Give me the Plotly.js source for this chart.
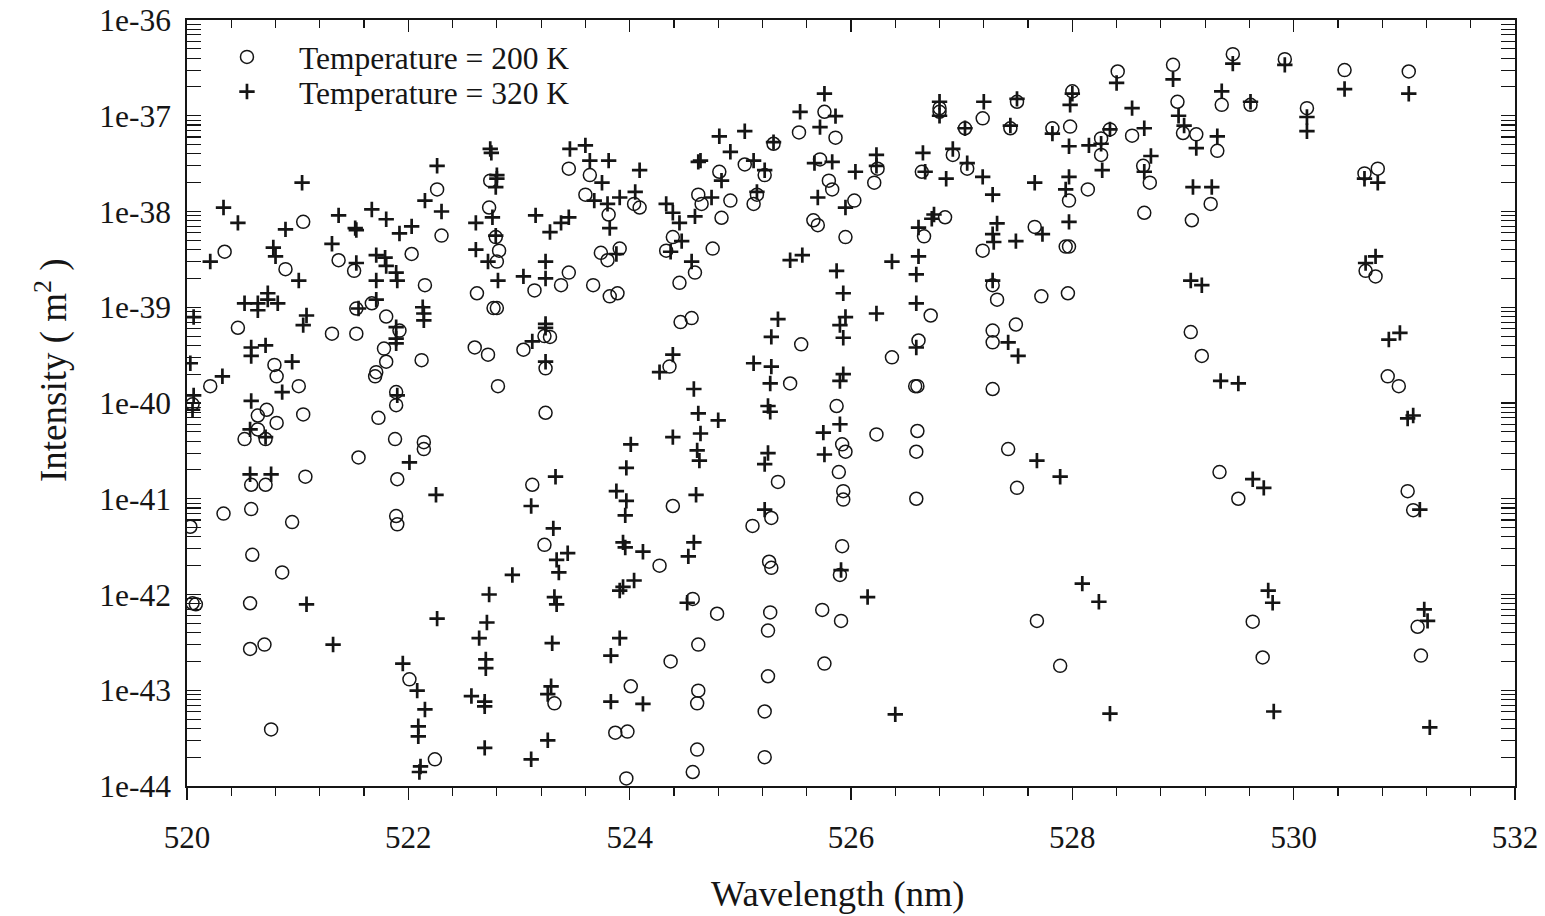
<!DOCTYPE html>
<html>
<head>
<meta charset="utf-8">
<script src="https://cdn.plot.ly/plotly-3.0.1.min.js"></script>
<style>
  html, body { margin: 0; padding: 0; background: #ffffff; }
  #chart { width: 1545px; height: 916px; }
</style>
</head>
<body>
<div id="chart"></div>
<script>
// ---------- data ----------
const seriesNames = ["Temperature = 200 K", "Temperature = 320 K"];

const wl200 = [
522.74,522.26,521.05,522.30,522.73,522.79,522.82,522.80,520.34,521.37,520.89,521.51,522.03,522.15,522.62,
520.46,521.53,521.67,521.80,521.92,521.31,521.53,522.77,522.80,520.79,520.81,520.21,521.01,521.78,521.80,
521.71,521.70,522.12,521.89,522.60,522.72,522.81,520.05,520.72,520.64,520.81,521.05,520.64,520.52,520.71,
521.73,521.89,521.88,522.14,522.14,521.55,520.58,520.71,521.07,521.90,520.33,520.58,520.03,520.95,521.89,
521.90,520.59,520.86,520.05,520.08,520.57,520.57,520.70,522.01,522.24,520.76,
525.76,525.53,525.86,525.30,524.81,525.04,525.22,525.72,525.80,525.83,525.95,525.66,525.70,523.45,523.64,
523.60,523.81,524.04,524.09,523.74,523.80,523.91,523.14,523.38,523.45,523.67,523.82,523.89,524.62,524.65,
524.91,524.83,525.12,525.15,524.39,524.33,524.75,524.59,524.45,524.46,524.56,524.36,525.55,525.45,525.87,
523.23,523.28,523.04,523.24,523.24,523.12,523.23,523.32,524.01,523.87,523.98,523.97,524.39,524.27,524.57,
524.79,524.62,524.37,524.62,524.61,524.61,524.57,525.34,525.28,525.11,525.26,525.28,525.27,525.25,525.25,
525.22,525.22,525.92,525.95,525.89,525.93,525.93,525.92,525.90,525.74,525.91,525.76,
528.91,528.95,528.41,528.00,528.54,528.34,528.26,528.26,527.98,527.82,527.19,527.50,527.44,526.80,526.80,
527.03,526.92,527.05,526.64,526.24,526.21,526.03,527.97,528.14,528.64,528.70,528.65,527.97,527.94,527.66,
527.19,526.85,526.66,526.72,527.28,527.32,527.72,527.96,527.28,527.28,527.49,526.61,526.37,526.60,526.58,
527.28,526.23,526.60,526.59,526.59,527.42,527.50,527.68,527.89,
529.00,529.12,529.31,529.35,529.45,529.61,529.92,530.12,530.46,531.04,529.25,529.08,530.64,530.76,530.65,
530.74,529.07,529.17,530.85,530.95,529.33,529.50,531.03,531.08,529.63,529.72,531.12,531.15
];
const int200 = [
2.1e-38,1.7e-38,7.8e-39,5.6e-39,1.1e-38,5.4e-39,3.9e-39,3.0e-39,3.8e-39,3.1e-39,2.5e-39,2.4e-39,3.6e-39,1.7e-39,1.4e-39,
6.1e-40,9.7e-40,1.1e-39,8.0e-40,5.7e-40,5.3e-40,5.3e-40,9.8e-40,9.8e-40,2.5e-40,1.9e-40,1.5e-40,1.5e-40,3.7e-40,2.7e-40,
2.1e-40,1.9e-40,2.8e-40,1.3e-40,3.8e-40,3.2e-40,1.5e-40,9.7e-41,8.5e-41,7.4e-41,6.2e-41,7.6e-41,5.3e-41,4.2e-41,4.2e-41,
7.0e-41,9.5e-41,4.2e-41,3.9e-41,3.3e-41,2.7e-41,1.4e-41,1.4e-41,1.7e-41,1.6e-41,7.0e-42,7.8e-42,5.1e-42,5.7e-42,6.6e-42,
5.4e-42,2.6e-42,1.7e-42,8.1e-43,7.9e-43,8.1e-43,2.7e-43,3.0e-43,1.3e-43,1.9e-44,3.9e-44,
1.1e-37,6.7e-38,5.9e-38,5.1e-38,2.6e-38,3.1e-38,2.4e-38,3.5e-38,2.1e-38,1.7e-38,5.4e-39,8.1e-39,7.2e-39,2.8e-38,2.4e-38,
1.5e-38,9.3e-39,1.2e-38,1.1e-38,3.7e-39,3.1e-39,4.1e-39,1.5e-39,1.7e-39,2.3e-39,1.7e-39,1.3e-39,1.4e-39,1.5e-38,1.2e-38,
1.3e-38,8.6e-39,1.2e-38,1.5e-38,5.4e-39,3.9e-39,4.1e-39,2.3e-39,1.8e-39,7.0e-40,7.7e-40,2.4e-40,4.1e-40,1.6e-40,9.3e-41,
5.0e-40,4.9e-40,3.6e-40,2.3e-40,7.9e-41,1.4e-41,3.3e-42,7.3e-44,1.1e-43,3.6e-44,3.7e-44,1.2e-44,8.4e-42,2.0e-42,9.0e-43,
6.3e-43,3.0e-43,2.0e-43,9.9e-44,7.3e-44,2.4e-44,1.4e-44,1.5e-41,6.3e-42,5.2e-42,2.2e-42,1.9e-42,6.5e-43,4.2e-43,1.4e-43,
6.0e-44,2.0e-44,3.7e-41,3.1e-41,1.9e-41,1.2e-41,9.8e-42,3.2e-42,1.6e-42,6.9e-43,5.3e-43,1.9e-43,
3.4e-37,1.4e-37,2.9e-37,1.8e-37,6.2e-38,7.2e-38,5.8e-38,3.9e-38,7.7e-38,7.4e-38,9.4e-38,1.4e-37,7.4e-38,1.2e-37,1.1e-37,
7.4e-38,3.9e-38,2.8e-38,2.6e-38,2.8e-38,2.0e-38,1.3e-38,1.3e-38,1.7e-38,3.0e-38,2.0e-38,9.7e-39,4.3e-39,4.3e-39,6.9e-39,
3.9e-39,8.7e-39,5.5e-39,8.2e-40,1.7e-39,1.2e-39,1.3e-39,1.4e-39,5.7e-40,4.3e-40,6.6e-40,4.5e-40,3.0e-40,1.5e-40,1.5e-40,
1.4e-40,4.7e-41,5.1e-41,3.1e-41,1.0e-41,3.3e-41,1.3e-41,5.3e-43,1.8e-43,
6.6e-38,6.4e-38,4.3e-38,1.3e-37,4.4e-37,1.3e-37,3.9e-37,1.2e-37,3.0e-37,2.9e-37,1.2e-38,8.1e-39,2.5e-38,2.8e-38,2.4e-39,
2.1e-39,5.5e-40,3.1e-40,1.9e-40,1.5e-40,1.9e-41,1.0e-41,1.2e-41,7.6e-42,5.2e-43,2.2e-43,4.6e-43,2.3e-43
];

const wl320 = [
522.74,522.75,522.26,521.04,522.80,522.80,522.79,522.15,522.30,520.33,520.46,520.89,521.37,521.67,521.80,
521.52,521.53,521.92,522.03,522.61,522.76,522.79,522.61,522.72,522.81,520.21,521.31,520.78,520.80,521.01,
521.53,521.71,521.79,521.80,521.89,521.90,521.71,520.52,520.64,520.64,520.73,520.73,520.82,520.06,521.08,
521.05,521.55,521.71,521.89,522.13,522.14,522.14,520.58,520.58,520.71,520.95,520.03,520.32,520.86,521.89,
521.89,521.90,520.06,520.05,520.58,520.57,520.71,522.01,522.25,520.57,520.76,521.08,521.32,522.94,522.73,
522.26,522.71,522.64,522.70,522.70,521.95,522.08,522.15,522.09,522.09,522.57,522.69,522.69,522.69,522.11,
522.10,
525.76,525.54,525.86,525.72,524.81,525.04,524.91,525.30,524.62,524.64,524.83,525.12,525.22,525.67,525.83,
525.70,525.95,523.46,523.60,523.64,523.81,523.75,524.09,523.68,523.80,523.91,524.05,523.82,523.15,523.28,
523.38,523.45,523.88,523.24,523.04,523.24,524.33,524.39,524.45,524.59,524.74,525.15,524.47,524.37,524.56,
524.39,524.27,524.58,524.62,525.45,525.56,525.87,525.93,525.95,525.90,525.93,525.34,525.28,525.12,525.28,
525.27,525.25,525.27,525.93,525.90,523.24,523.24,523.12,523.24,523.33,523.11,523.31,523.44,523.34,523.36,
523.32,523.34,523.30,523.29,523.26,523.26,523.11,524.01,523.97,523.88,523.97,523.96,523.94,523.96,524.12,
524.04,523.94,523.91,523.91,523.83,523.83,524.12,524.39,524.64,524.80,524.61,524.63,524.60,524.58,524.53,
524.52,525.25,525.22,525.22,525.90,525.75,525.76,525.91,
528.91,528.96,528.40,528.00,527.98,528.54,528.65,528.34,528.26,528.15,528.27,527.97,527.82,527.20,527.50,
527.44,526.80,526.80,527.03,526.92,527.05,526.65,526.67,526.23,526.23,526.04,526.86,527.19,527.28,527.66,
527.97,527.94,528.65,528.71,527.97,527.73,527.32,527.28,527.29,527.49,526.75,526.73,526.61,526.61,526.59,
526.37,526.59,526.23,527.28,527.42,527.51,526.59,527.68,527.89,526.15,528.09,528.24,526.40,528.34,
529.01,529.12,529.31,529.35,529.45,529.61,529.92,530.12,530.12,530.46,531.04,529.09,529.26,530.64,530.76,
529.07,529.17,530.65,530.74,529.34,529.50,530.86,530.96,531.03,531.08,529.63,529.73,531.14,529.77,529.81,
529.82,531.18,531.21,531.23
];
const int320 = [
4.5e-38,4.1e-38,3.0e-38,2.0e-38,2.4e-38,2.2e-38,1.8e-38,1.3e-38,1.0e-38,1.1e-38,7.6e-39,6.5e-39,9.1e-39,1.05e-38,8.3e-39,
6.7e-39,6.4e-39,5.9e-39,7.0e-39,7.6e-39,8.7e-39,5.6e-39,4.0e-39,3.0e-39,1.9e-39,3.0e-39,4.6e-39,4.2e-39,3.4e-39,1.9e-39,
2.9e-39,3.5e-39,3.3e-39,2.7e-39,2.3e-39,1.9e-39,1.9e-39,1.1e-39,1.1e-39,9.3e-40,1.4e-39,1.2e-39,1.1e-39,7.9e-40,8.2e-40,
6.5e-40,9.7e-40,1.2e-39,6.2e-40,1.0e-39,8.6e-40,7.3e-40,3.8e-40,3.1e-40,4.0e-40,2.7e-40,2.6e-40,1.9e-40,1.3e-40,4.7e-40,
4.2e-40,1.2e-40,1.2e-40,8.5e-41,1.05e-40,5.3e-41,4.4e-41,2.4e-41,1.1e-41,1.8e-41,1.8e-41,7.9e-43,3.0e-43,1.6e-42,1.0e-42,
5.6e-43,5.1e-43,3.5e-43,2.1e-43,1.7e-43,1.9e-43,9.9e-44,6.3e-44,4.2e-44,3.3e-44,8.7e-44,7.6e-44,6.8e-44,2.5e-44,1.6e-44,
1.4e-44,
1.7e-37,1.1e-37,9.9e-38,7.6e-38,6.1e-38,6.9e-38,4.2e-38,5.3e-38,3.3e-38,3.4e-38,2.1e-38,3.4e-38,2.7e-38,3.2e-38,3.3e-38,
1.4e-38,1.1e-38,4.5e-38,4.9e-38,3.4e-38,3.4e-38,2.0e-38,2.7e-38,1.3e-38,1.2e-38,1.4e-38,1.6e-38,6.7e-39,9.1e-39,6.1e-39,
7.6e-39,8.7e-39,3.6e-39,3.0e-39,2.1e-39,2.0e-39,1.2e-38,9.7e-39,7.6e-39,8.9e-39,1.4e-38,1.6e-38,4.9e-39,3.8e-39,3.0e-39,
3.2e-40,2.1e-40,1.4e-40,7.8e-41,3.1e-39,3.5e-39,2.4e-39,1.4e-39,7.9e-40,6.5e-40,4.8e-40,7.5e-40,4.9e-40,2.6e-40,2.4e-40,
1.6e-40,9.3e-41,8.1e-41,2.0e-40,1.7e-40,6.7e-40,6.1e-40,4.4e-40,2.7e-40,1.7e-41,8.4e-42,4.9e-42,2.7e-42,2.3e-42,1.7e-42,
9.4e-43,7.9e-43,3.1e-43,1.1e-43,9.1e-44,3.0e-44,1.9e-44,3.7e-41,2.1e-41,1.2e-41,9.5e-42,6.7e-42,3.5e-42,3.1e-42,2.8e-42,
1.4e-42,1.2e-42,1.1e-42,3.5e-43,2.3e-43,7.6e-44,7.2e-44,4.4e-41,4.8e-41,6.6e-41,3.2e-41,2.5e-41,1.1e-41,3.5e-42,2.5e-42,
8.2e-43,3.0e-41,2.3e-41,7.7e-42,6.0e-41,4.9e-41,2.9e-41,1.8e-42,
2.4e-37,1.0e-37,2.2e-37,1.7e-37,1.3e-37,1.2e-37,7.4e-38,7.2e-38,5.1e-38,4.9e-38,2.7e-38,4.8e-38,6.5e-38,1.4e-37,1.5e-37,
7.9e-38,1.4e-37,1.0e-37,7.4e-38,4.5e-38,3.2e-38,4.1e-38,2.6e-38,3.9e-38,3.0e-38,2.6e-38,2.2e-38,2.3e-38,1.5e-38,2.0e-38,
2.3e-38,1.7e-38,2.6e-38,3.8e-38,7.8e-39,5.8e-39,7.5e-39,5.8e-39,4.8e-39,4.9e-39,9.3e-39,8.4e-39,6.8e-39,3.4e-39,2.2e-39,
3.0e-39,1.1e-39,8.6e-40,1.9e-39,4.3e-40,3.1e-40,3.8e-40,2.5e-41,1.7e-41,9.4e-43,1.3e-42,8.4e-43,5.6e-44,5.7e-44,
7.9e-38,4.6e-38,6.1e-38,1.8e-37,3.5e-37,1.4e-37,3.4e-37,9.7e-38,6.9e-38,1.9e-37,1.7e-37,1.8e-38,1.8e-38,2.2e-38,2.0e-38,
1.9e-39,1.7e-39,2.9e-39,3.4e-39,1.7e-40,1.6e-40,4.6e-40,5.4e-40,6.9e-41,7.4e-41,1.6e-41,1.3e-41,7.7e-42,1.1e-42,8.2e-43,
6.0e-44,7.0e-43,5.3e-43,4.1e-44
];

// axis tick labels and titles
const xTickVals = [520, 522, 524, 526, 528, 530, 532];
const xTickText = ["520", "522", "524", "526", "528", "530", "532"];
const yTickVals = [1e-44, 1e-43, 1e-42, 1e-41, 1e-40, 1e-39, 1e-38, 1e-37, 1e-36];
const yTickText = ["1e-44", "1e-43", "1e-42", "1e-41", "1e-40", "1e-39", "1e-38", "1e-37", "1e-36"];
const xTitle = "Wavelength (nm)";
const yTitle = "Intensity ( m<sup>2</sup> )";

// ---------- drawing ----------
const INK = "#151515";
const FONT = "Liberation Serif, Times New Roman, serif";

// minor tick positions on the log axis (2..9 per decade)
const yMinorVals = [];
for (let d = -44; d < -36; d++) {
  for (let m = 2; m <= 9; m++) yMinorVals.push(m * Math.pow(10, d));
}

const traces = [
  {
    type: "scatter", mode: "markers", name: seriesNames[0], legend: "legend",
    x: wl200, y: int200,
    marker: { symbol: "circle-open", size: 13, color: INK, line: { width: 1.5, color: INK } }
  },
  {
    type: "scatter", mode: "markers", name: seriesNames[1], legend: "legend2",
    x: wl320, y: int320,
    marker: { symbol: "cross-thin-open", size: 11, color: INK, line: { width: 2.7, color: INK } }
  },
  { type: "scatter", mode: "markers", x: [], y: [], xaxis: "x2", yaxis: "y", showlegend: false, hoverinfo: "skip" }
];

const commonX = {
  range: [520, 532],
  tickmode: "array", tickvals: xTickVals,
  showline: true, linecolor: INK, linewidth: 1.6,
  tickcolor: INK, tickwidth: 1.4, ticklen: 12,
  showgrid: false, zeroline: false
};

const legendCommon = {
  xanchor: "left", yanchor: "top",
  bgcolor: "rgba(0,0,0,0)", borderwidth: 0,
  itemwidth: 94,
  font: { family: FONT, size: 31.5, color: INK }
};

const layout = {
  width: 1545, height: 916,
  paper_bgcolor: "#ffffff", plot_bgcolor: "#ffffff",
  margin: { l: 187, r: 30, t: 20, b: 130 },
  font: { family: FONT, color: INK, size: 30 },
  showlegend: true,
  legend: Object.assign({}, legendCommon, { x: 0.006, y: 0.987 }),
  legend2: Object.assign({}, legendCommon, { x: 0.006, y: 0.9418 }),
  xaxis: Object.assign({}, commonX, {
    side: "bottom",
    ticks: "outside", ticktext: xTickText, showticklabels: true,
    tickfont: { family: FONT, size: 31, color: INK },
    ticklabelstandoff: 11,
    minor: { ticks: "outside", dtick: 0.4, tick0: 520, ticklen: 8, tickwidth: 1.2, tickcolor: INK, showgrid: false }
  }),
  xaxis2: Object.assign({}, commonX, {
    overlaying: "x", side: "top", anchor: "y",
    ticks: "inside", showticklabels: false,
    minor: { ticks: "inside", dtick: 0.4, tick0: 520, ticklen: 8, tickwidth: 1.2, tickcolor: INK, showgrid: false }
  }),
  yaxis: {
    type: "log", range: [-44, -36],
    tickmode: "array", tickvals: yTickVals, ticktext: yTickText,
    ticks: "inside", ticklen: 14, tickwidth: 1.4, tickcolor: INK,
    mirror: "allticks",
    showline: true, linecolor: INK, linewidth: 1.6,
    showgrid: false, zeroline: false,
    tickfont: { family: FONT, size: 31.5, color: INK },
    ticklabelstandoff: 8,
    minor: { ticks: "inside", tickmode: "array", tickvals: yMinorVals, ticklen: 7, tickwidth: 1.1, tickcolor: INK, showgrid: false }
  },
  annotations: [
    {
      text: xTitle, xref: "paper", yref: "paper",
      x: 0.490, y: -0.1397, xanchor: "center", yanchor: "middle",
      showarrow: false, font: { family: FONT, size: 36.5, color: INK }
    },
    {
      text: yTitle, xref: "paper", yref: "paper", textangle: -90,
      x: -0.1017, y: 0.543, xanchor: "center", yanchor: "middle",
      showarrow: false, font: { family: FONT, size: 37, color: INK }
    }
  ]
};

Plotly.newPlot("chart", traces, layout, { displayModeBar: false, staticPlot: true });
</script>
</body>
</html>
